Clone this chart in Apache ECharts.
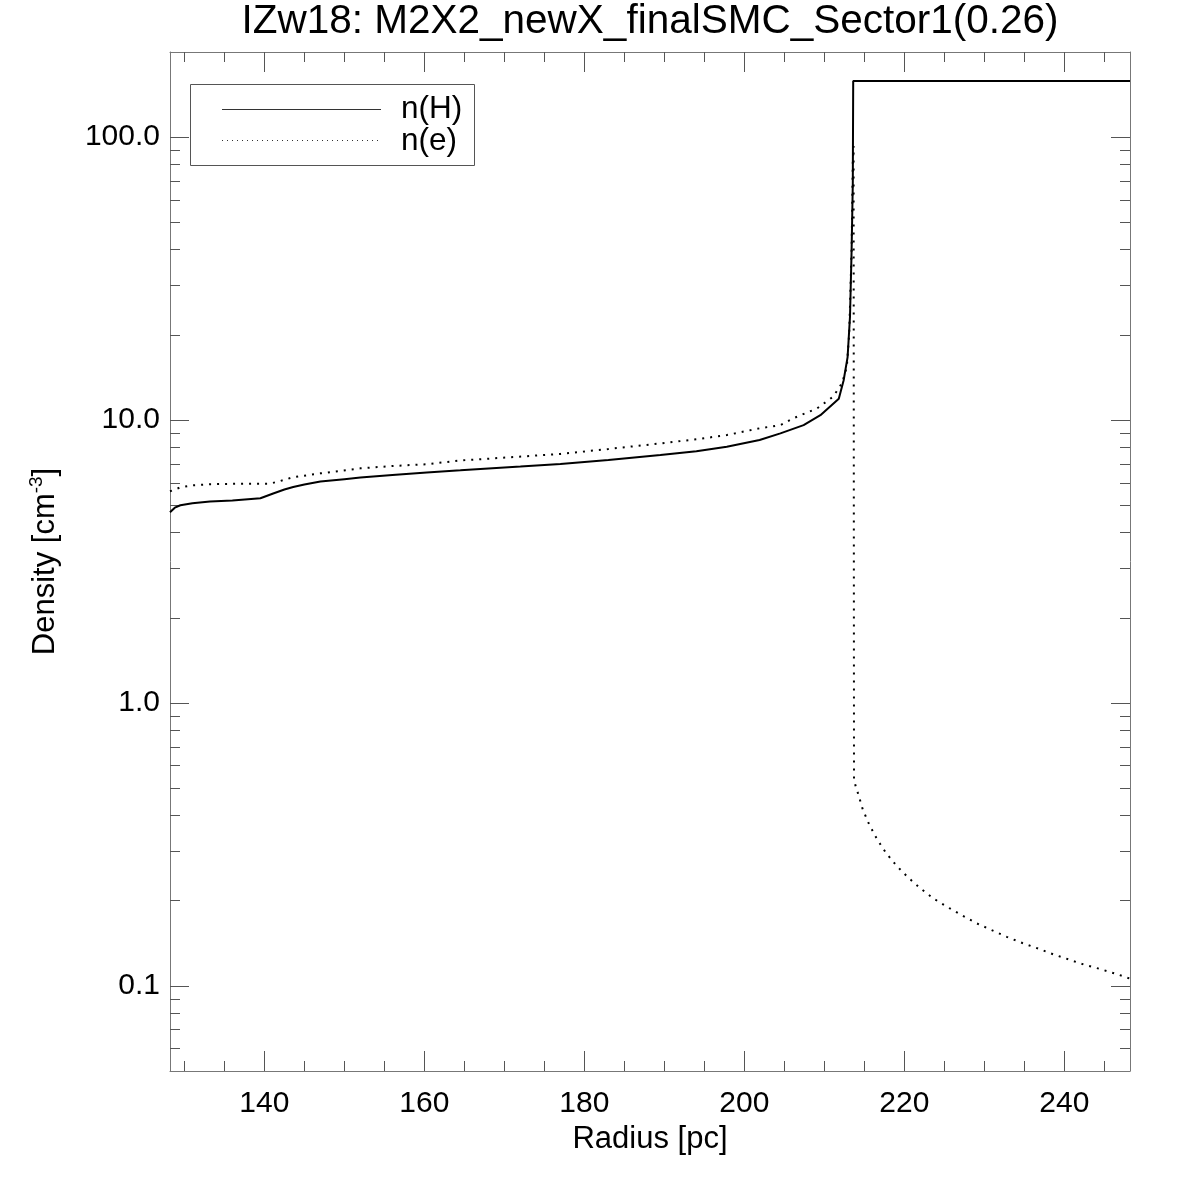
<!DOCTYPE html>
<html>
<head>
<meta charset="utf-8">
<script src="https://cdn.jsdelivr.net/npm/echarts@6/dist/echarts.min.js"></script>
<style>
html,body{margin:0;padding:0;background:#fff;}
#chart{width:1180px;height:1180px;}
</style>
</head>
<body>
<div id="chart"></div>
<script>
// ---- data ----
const radiusH = [128.2, 128.8, 129.5, 131, 133.2, 136, 139.5, 141.1, 142.5, 143.6, 145, 147, 150, 152, 156, 160.3, 164.5, 167, 172, 177, 183, 189.5, 194, 197.8, 201.9, 204.5, 207.4, 209.5, 211.8, 212.4, 212.9, 213.2, 213.4, 213.55, 213.6, 248.2];
const densH  = [4.72, 4.9, 5.0, 5.08, 5.15, 5.2, 5.29, 5.5, 5.68, 5.8, 5.92, 6.06, 6.18, 6.26, 6.4, 6.52, 6.64, 6.72, 6.85, 6.99, 7.22, 7.52, 7.76, 8.05, 8.5, 8.97, 9.6, 10.4, 11.9, 13.8, 16.7, 23.2, 39.8, 68.5, 158, 158];

const radiusE = [128.2, 129.5, 131, 133.2, 137.4, 140.7, 142, 143.6, 147, 152, 156, 160.3, 164.5, 167, 177, 183, 189.5, 194, 197.8, 201.9, 204.5, 206.1, 209.1, 211.1, 212.2, 212.8, 213.1, 213.4, 213.55, 213.65, 213.7, 213.9, 214.2, 214.8, 215.6, 216.6, 217.7, 219.05, 220.5, 222.05, 223.7, 225.5, 227.2, 229.05, 231, 232.8, 234.75, 236.7, 238.6, 240.6, 242.6, 244.55, 246.55, 248.2];
const densE  = [5.6, 5.78, 5.88, 5.93, 5.96, 5.96, 6.09, 6.28, 6.48, 6.75, 6.88, 6.98, 7.2, 7.27, 7.59, 7.9, 8.27, 8.55, 8.85, 9.35, 9.6, 10.14, 11.0, 12.1, 13.5, 15.4, 20.2, 40, 82, 93, 0.54, 0.508, 0.479, 0.42, 0.372, 0.329, 0.295, 0.265, 0.241, 0.2205, 0.203, 0.189, 0.1775, 0.1663, 0.157, 0.149, 0.1417, 0.1355, 0.1293, 0.1238, 0.1185, 0.1145, 0.110, 0.106];

const xMajorTicks = [140, 160, 180, 200, 220, 240];
const xMinorTicks = [130, 135, 145, 150, 155, 165, 170, 175, 185, 190, 195, 205, 210, 215, 225, 230, 235, 245];
const yMajorTicks = [0.1, 1, 10, 100];
const yMinorTicks = [0.06, 0.07, 0.08, 0.09, 0.2, 0.3, 0.4, 0.5, 0.6, 0.7, 0.8, 0.9, 2, 3, 4, 5, 6, 7, 8, 9, 20, 30, 40, 50, 60, 70, 80, 90];
const xRange = [128.2, 248.2];
const yRange = [0.05, 200];

const titleText = 'IZw18: M2X2_newX_finalSMC_Sector1(0.26)';
const seriesNames = ['n(H)', 'n(e)'];

// ---- build ----
const FONT = '"Liberation Sans", Arial, Helvetica, sans-serif';
const lg = v => Math.log10(v);
const frameColor = '#777';
const tickColor = '#555';

function xAx(pos, ticks, len, withLabel, showLine) {
  const a = {
    type: 'value', position: pos, min: xRange[0], max: xRange[1],
    splitLine: {show: false},
    axisLine: {show: showLine, onZero: false, lineStyle: {color: frameColor, width: 1}},
    axisTick: {show: true, inside: true, length: len, customValues: ticks, lineStyle: {color: tickColor, width: 1}},
    axisLabel: {show: false}
  };
  if (withLabel) {
    a.axisLabel = {show: true, customValues: ticks, margin: 18, fontSize: 30, color: '#000', fontFamily: FONT};
    a.name = 'Radius [pc]';
    a.nameLocation = 'middle';
    a.nameGap = 51;
    a.nameTextStyle = {fontSize: 31, color: '#000', fontFamily: FONT};
  }
  return a;
}
function yAx(pos, ticks, len, withLabel, showLine) {
  const tv = ticks.map(lg);
  const a = {
    type: 'value', position: pos, min: lg(yRange[0]), max: lg(yRange[1]),
    splitLine: {show: false},
    axisLine: {show: showLine, onZero: false, lineStyle: {color: frameColor, width: 1}},
    axisTick: {show: true, inside: true, length: len, customValues: tv, lineStyle: {color: tickColor, width: 1}},
    axisLabel: {show: false}
  };
  if (withLabel) {
    a.axisLabel = {show: true, customValues: tv, margin: 10, fontSize: 30, color: '#000', fontFamily: FONT,
      formatter: v => Math.pow(10, v).toFixed(1)};
    a.name = 'Density [cm{sup|-3}]';
    a.nameLocation = 'middle';
    a.nameRotate = 90;
    a.nameGap = 107;
    a.nameTextStyle = {fontSize: 31, color: '#000', fontFamily: FONT,
      rich: {sup: {fontSize: 19, color: '#000', fontFamily: FONT, verticalAlign: 'top', lineHeight: 36}}};
  }
  return a;
}

const chart = echarts.init(document.getElementById('chart'), null, {renderer: 'canvas'});
chart.setOption({
  backgroundColor: '#fff',
  animation: false,
  grid: {left: 170, right: 50, top: 52, bottom: 109, containLabel: false},
  xAxis: [
    xAx('bottom', xMajorTicks, 20, true, true),
    xAx('bottom', xMinorTicks, 10, false, false),
    xAx('top', xMajorTicks, 20, false, true),
    xAx('top', xMinorTicks, 10, false, false)
  ],
  yAxis: [
    yAx('left', yMajorTicks, 19, true, true),
    yAx('left', yMinorTicks, 10, false, false),
    yAx('right', yMajorTicks, 19, false, true),
    yAx('right', yMinorTicks, 10, false, false)
  ],
  series: [
    {
      name: seriesNames[0], type: 'line', xAxisIndex: 0, yAxisIndex: 0,
      showSymbol: false, symbol: 'none', smooth: false, clip: true,
      lineStyle: {color: '#000', width: 2, type: 'solid'},
      data: radiusH.map((r, i) => [r, lg(densH[i])])
    },
    {
      name: seriesNames[1], type: 'line', xAxisIndex: 0, yAxisIndex: 0,
      showSymbol: false, symbol: 'none', smooth: false, clip: true,
      lineStyle: {color: '#000', width: 2, type: [2, 6], cap: 'butt'},
      data: radiusE.map((r, i) => [r, lg(densE[i])])
    }
  ],
  graphic: [
    {type: 'text', x: 650, y: 22, style: {text: titleText, fontSize: 40.5, fontFamily: FONT, fill: '#000', textAlign: 'center', textVerticalAlign: 'middle'}},
    {type: 'rect', shape: {x: 190.5, y: 84.5, width: 284, height: 81}, style: {fill: 'none', stroke: '#555', lineWidth: 1}},
    {type: 'line', shape: {x1: 222, y1: 109.5, x2: 381, y2: 109.5}, style: {stroke: '#333', lineWidth: 1}},
    {type: 'line', shape: {x1: 222, y1: 140.5, x2: 381, y2: 140.5}, style: {stroke: '#333', lineWidth: 1, lineDash: [1, 4]}},
    {type: 'text', x: 401, y: 109, style: {text: seriesNames[0], fontSize: 31.5, fontFamily: FONT, fill: '#000', textAlign: 'left', textVerticalAlign: 'middle'}},
    {type: 'text', x: 401, y: 141, style: {text: seriesNames[1], fontSize: 31.5, fontFamily: FONT, fill: '#000', textAlign: 'left', textVerticalAlign: 'middle'}}
  ]
});
</script>
</body>
</html>
